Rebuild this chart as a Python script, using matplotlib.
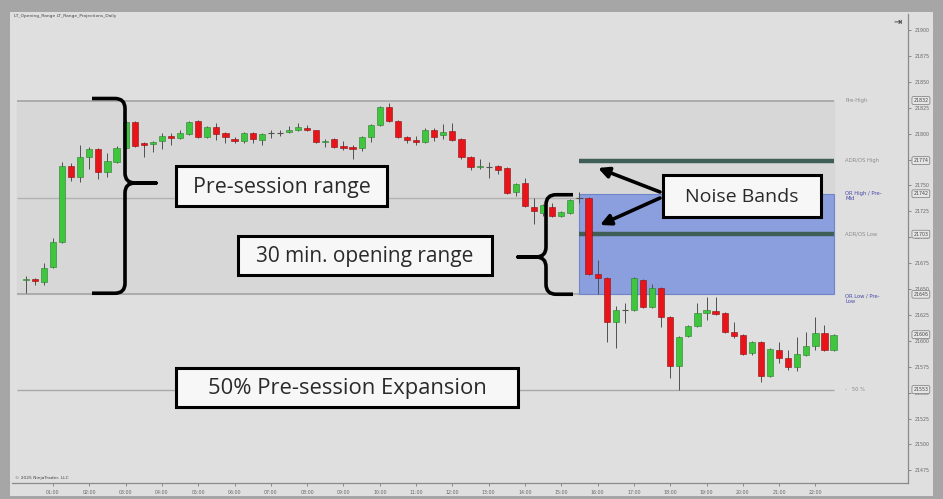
import matplotlib.pyplot as plt
import matplotlib.patches as mpatches
from matplotlib.path import Path
import numpy as np

W, H = 943, 499

# ── 15-min bars (price) ──
first_bar_hour = 0.25   # first bar closes 00:15
bar_hours = 0.25

opens = [21659, 21660, 21657, 21671, 21695, 21769, 21758, 21777, 21785, 21763,
         21773, 21786, 21811, 21791, 21790, 21793, 21798, 21796, 21800, 21812,
         21797, 21806, 21801, 21795, 21793, 21801, 21794, 21801, 21801, 21802,
         21804, 21805, 21804, 21792, 21795, 21788, 21787, 21786, 21797, 21808,
         21826, 21812, 21797, 21794, 21792, 21804, 21799, 21803, 21795, 21777,
         21768, 21768, 21769, 21767, 21744, 21752, 21729, 21723, 21729, 21721,
         21723, 21738, 21738, 21665, 21661, 21618, 21630, 21630, 21659, 21633,
         21651, 21623, 21576, 21605, 21614, 21627, 21629, 21627, 21609, 21606,
         21588, 21599, 21566, 21591, 21583, 21575, 21586, 21595, 21608, 21591]
highs = [21663, 21661, 21675, 21699, 21773, 21772, 21789, 21787, 21786, 21781,
         21788, 21813, 21812, 21792, 21793, 21801, 21801, 21804, 21812, 21813,
         21807, 21810, 21802, 21797, 21802, 21802, 21801, 21804, 21804, 21807,
         21810, 21808, 21804, 21795, 21796, 21793, 21789, 21798, 21809, 21827,
         21830, 21813, 21798, 21798, 21805, 21805, 21809, 21810, 21796, 21778,
         21776, 21773, 21770, 21768, 21752, 21757, 21738, 21732, 21733, 21725,
         21737, 21744, 21739, 21678, 21662, 21634, 21637, 21662, 21660, 21655,
         21652, 21624, 21605, 21615, 21637, 21642, 21642, 21628, 21618, 21607,
         21600, 21600, 21593, 21599, 21591, 21604, 21609, 21623, 21615, 21607]
lows = [21646, 21654, 21654, 21670, 21694, 21754, 21753, 21766, 21756, 21758,
        21772, 21785, 21787, 21777, 21782, 21785, 21789, 21795, 21799, 21796,
        21796, 21794, 21791, 21791, 21791, 21791, 21789, 21796, 21798, 21801,
        21803, 21803, 21791, 21787, 21786, 21784, 21776, 21783, 21792, 21807,
        21811, 21796, 21791, 21789, 21791, 21793, 21795, 21793, 21776, 21765,
        21766, 21757, 21761, 21742, 21740, 21729, 21713, 21721, 21720, 21720,
        21722, 21733, 21664, 21645, 21599, 21593, 21617, 21629, 21632, 21632,
        21613, 21564, 21553, 21604, 21613, 21620, 21625, 21608, 21603, 21586,
        21586, 21560, 21565, 21579, 21572, 21571, 21585, 21591, 21590, 21590]
closes = [21660, 21658, 21670, 21695, 21769, 21758, 21777, 21785, 21763, 21774,
          21786, 21811, 21788, 21789, 21792, 21798, 21796, 21801, 21811, 21797,
          21806, 21800, 21797, 21793, 21801, 21795, 21800, 21801, 21801, 21804,
          21806, 21804, 21792, 21793, 21787, 21786, 21785, 21797, 21808, 21826,
          21812, 21797, 21794, 21792, 21804, 21797, 21802, 21794, 21777, 21768,
          21769, 21768, 21765, 21743, 21751, 21730, 21725, 21731, 21721, 21724,
          21736, 21738, 21665, 21661, 21618, 21630, 21630, 21661, 21633, 21651,
          21623, 21576, 21604, 21614, 21627, 21630, 21626, 21609, 21605, 21587,
          21599, 21566, 21592, 21583, 21575, 21587, 21595, 21608, 21591, 21606]

# ── levels ──
pre_high = 21832
pre_low = 21645
pre_mid = 21738
or_high = 21742
or_low = 21645
adr_high = 21774
adr_low = 21703
expansion_50 = 21553
last_price = 21606

session_start = 0.0   # 00:00
or_start = 15.5       # 15:30
session_end = 22.5    # 22:30

price_ticks = list(range(21475, 21901, 25))
hour_ticks = list(range(1, 23))
hour_labels = [f"{h:02d}:00" for h in hour_ticks]

BOX_FONT = ["Open Sans", "DejaVu Sans"]

fig = plt.figure(figsize=(W / 100, H / 100), dpi=100)
fig.patch.set_facecolor("#a6a6a6")

# light inner panel as a background axes
bg = fig.add_axes([10 / W, 3 / H, 923 / W, 484 / H], zorder=-5)
bg.set_facecolor("#dfdfdf")
bg.set_xticks([])
bg.set_yticks([])
for s in bg.spines.values():
    s.set_visible(False)

ax = fig.add_axes([12 / W, (H - 483) / H, 896 / W, 469 / H])
ax.set_facecolor("none")
ax.set_xlim(-0.13, 24.55)
ax.set_ylim(21462.8, 21915.5)
for s in ("top", "left"):
    ax.spines[s].set_visible(False)
for s in ("bottom", "right"):
    ax.spines[s].set_color("#8a8a8a")
    ax.spines[s].set_linewidth(0.9)
ax.yaxis.tick_right()
ax.set_yticks(price_ticks, [str(p) for p in price_ticks])
ax.set_xticks(hour_ticks, hour_labels)
ax.tick_params(labelsize=3.4, colors="#666", length=2, width=0.5, pad=3)

# pre-session shading + levels
ax.fill_between([session_start, session_end], pre_low, pre_high, color="#d7d7d7", zorder=0)
ax.hlines([pre_high, pre_low], session_start, session_end, color="#a8a8a8", lw=1.3, zorder=1)
ax.hlines(pre_mid, session_start, or_start, color="#b2b2b2", lw=1.0, zorder=1)
ax.hlines(expansion_50, session_start, session_end, color="#a8a8a8", lw=1.0, zorder=1)

ax.add_patch(mpatches.Rectangle((or_start, or_low), session_end - or_start, or_high - or_low,
                                facecolor="#8b9fde", edgecolor="#6f84c9", lw=0.8, zorder=1))
ax.hlines([adr_high, adr_low], or_start, session_end, color="#3f5e56", lw=3.2, zorder=2)

# candles
o, hi, lo, c = (np.array(a, dtype=float) for a in (opens, highs, lows, closes))
t = first_bar_hour + bar_hours * np.arange(len(o))
up, down, flat = c > o, c < o, c == o
ax.vlines(t, lo, hi, color="#505050", lw=0.7, zorder=3)
bw = 0.17
ax.bar(t[up], (c - o)[up], bottom=o[up], width=bw, color="#3fc63f",
       edgecolor="#2f7a2f", lw=0.4, zorder=4)
ax.bar(t[down], (o - c)[down], bottom=c[down], width=bw, color="#e8141a",
       edgecolor="#8a1010", lw=0.4, zorder=4)
ax.hlines(o[flat], t[flat] - bw / 2, t[flat] + bw / 2, color="#505050", lw=0.8, zorder=4)

# level names at right
lx = 22.82
ax.text(lx, pre_high, "Pre-High", fontsize=3.8, color="#8c8c8c", va="center")
ax.text(lx, adr_high, "ADR/OS High", fontsize=3.8, color="#8c8c8c", va="center")
ax.text(lx, or_high + 3, "OR High / Pre-\nMid", fontsize=3.8, color="#4a4aa8",
        va="top", linespacing=1.1)
ax.text(lx, adr_low, "ADR/OS Low", fontsize=3.8, color="#8c8c8c", va="center")
ax.text(lx, or_low + 1, "OR Low / Pre-\nLow", fontsize=3.8, color="#4a4aa8",
        va="top", linespacing=1.1)
ax.text(lx, expansion_50, "-   50 %", fontsize=3.8, color="#8c8c8c", va="center")

# boxed price tags on the scale
yt = ax.get_yaxis_transform()
for v in (pre_high, adr_high, or_high, adr_low, or_low, last_price, expansion_50):
    ax.text(1.006, v, str(v), transform=yt, fontsize=3.4, color="#444", va="center",
            ha="left", zorder=6, clip_on=False,
            bbox=dict(boxstyle="round,pad=0.3", fc="#e6e6e6", ec="#777", lw=0.5))

# ── overlay in image pixels ──
ov = fig.add_axes([0, 0, 1, 1], zorder=5)
ov.set_xlim(0, W)
ov.set_ylim(H, 0)
ov.axis("off")
ov.patch.set_alpha(0)


def to_px(tt, pp):
    x, y = ax.transData.transform((tt, pp))
    return x, H - y


def brace(spine_x, tip_x, cusp_x, top, bottom, cusp_y, r=10):
    s = 1 if cusp_x > spine_x else -1
    verts = [(tip_x, top), (spine_x - s * r, top), (spine_x, top), (spine_x, top + r),
             (spine_x, cusp_y - r), (spine_x, cusp_y), (spine_x + s * r, cusp_y),
             (cusp_x, cusp_y), (spine_x + s * r, cusp_y),
             (spine_x, cusp_y), (spine_x, cusp_y + r), (spine_x, bottom - r),
             (spine_x, bottom), (spine_x - s * r, bottom), (tip_x, bottom)]
    codes = [Path.MOVETO, Path.LINETO, Path.CURVE3, Path.CURVE3,
             Path.LINETO, Path.CURVE3, Path.CURVE3,
             Path.LINETO, Path.LINETO,
             Path.CURVE3, Path.CURVE3, Path.LINETO,
             Path.CURVE3, Path.CURVE3, Path.LINETO]
    ov.add_patch(mpatches.PathPatch(Path(verts, codes), fill=False, lw=2.6,
                                    edgecolor="black", capstyle="butt", joinstyle="round"))


_, y_ph = to_px(0, pre_high)
_, y_pl = to_px(0, pre_low)
brace(125, 92, 156, y_ph - 2, y_pl - 1, 183)
_, y_oh = to_px(0, or_high)
_, y_ol = to_px(0, or_low)
brace(546, 573, 518, y_oh + 1, y_ol, 257)


def label_box(x0, y0, x1, y1, text, size):
    ov.add_patch(mpatches.Rectangle((x0, y0), x1 - x0, y1 - y0, facecolor="#f7f7f7",
                                    edgecolor="black", lw=2.2, zorder=5))
    ov.text((x0 + x1) / 2, (y0 + y1) / 2 + 1, text, ha="center", va="center",
            fontsize=size, family=BOX_FONT, color="#2a2a2a", zorder=6)


label_box(176, 166, 387, 206, "Pre-session range", 15.4)
label_box(238, 236, 492, 275, "30 min. opening range", 15.0)
label_box(176, 368, 518, 407, "50% Pre-session Expansion", 15.8)
label_box(663, 175, 821, 217, "Noise Bands", 14.0)

arrow = dict(arrowstyle="-|>", lw=2.6, color="black", mutation_scale=16, shrinkA=0, shrinkB=0)
ov.annotate("", xy=(598, 168), xytext=(660, 192), arrowprops=arrow)
ov.annotate("", xy=(600, 225), xytext=(660, 198), arrowprops=arrow)

ov.text(14, 16, "LT_Opening_Range LT_Range_Projections_Daily", fontsize=3.2,
        color="#444", va="center")
ov.text(15, 478, "\u00a9 2025 NinjaTrader, LLC", fontsize=3.2, color="#444", va="center")
ov.text(897, 22, "\u21e5", fontsize=7, color="#333", ha="center", va="center")

fig.savefig("out.png", dpi=100, facecolor=fig.get_facecolor())
